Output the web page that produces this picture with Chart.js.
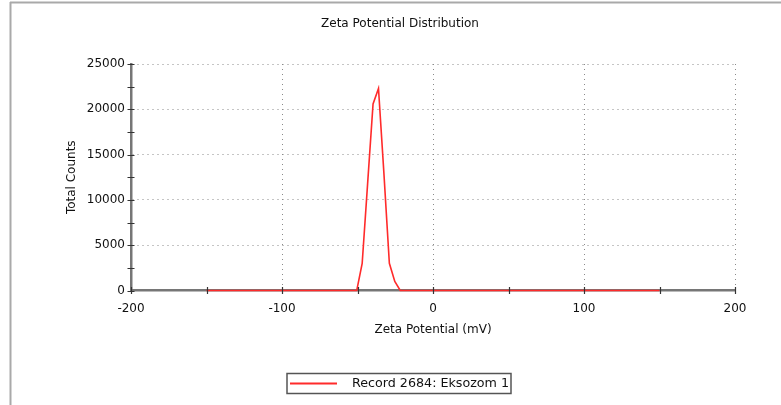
<!DOCTYPE html>
<html>
<head>
<meta charset="utf-8">
<script src="https://cdn.jsdelivr.net/npm/chart.js@4"></script>
<style>
  html, body { margin: 0; padding: 0; background: #fff; }
  #wrap { width: 781px; height: 405px; }
</style>
</head>
<body>
<div id="wrap"><canvas id="zeta" width="781" height="405"></canvas></div>
<script>
// Zeta potential distribution, one record
const zetaPotential = [-150, -50.5, -46.9, -43.3, -39.7, -36.1, -32.5, -28.9, -25.3, -21.7, 150];
const totalCounts   = [0, 0, 3000, 11800, 20600, 22300, 12900, 3000, 1000, 0, 0];
const xTicks = [-200, -100, 0, 100, 200];
const yTicks = [0, 5000, 10000, 15000, 20000, 25000];
const recordLabel = 'Record 2684: Eksozom 1';

const FONT = 'DejaVu Sans';
const TEXT = '#111';

// Outer panel edges (top and left rules)
const panelFrame = {
  id: 'panelFrame',
  beforeDraw(chart) {
    const c = chart.ctx;
    c.save();
    c.fillStyle = '#fff';
    c.fillRect(0, 0, chart.width, chart.height);
    c.strokeStyle = '#a9a9a9';
    c.lineWidth = 2;
    c.beginPath();
    c.moveTo(10, 2.5); c.lineTo(chart.width, 2.5);
    c.moveTo(10.5, 2); c.lineTo(10.5, chart.height);
    c.stroke();
    c.restore();
  }
};

// Short tick marks that cross the axis lines (major and minor)
const crossTicks = {
  id: 'crossTicks',
  afterDraw(chart) {
    const c = chart.ctx, xs = chart.scales.x, ys = chart.scales.y;
    const area = chart.chartArea;
    c.save();
    c.strokeStyle = '#333';
    c.lineWidth = 1.2;
    c.beginPath();
    for (let v = xs.min; v <= xs.max; v += 50) {
      const px = Math.round(xs.getPixelForValue(v)) + 0.5;
      c.moveTo(px, area.bottom - 3.5); c.lineTo(px, area.bottom + 3.5);
    }
    for (let v = ys.min; v <= ys.max; v += 2500) {
      const py = Math.round(ys.getPixelForValue(v)) + 0.5;
      c.moveTo(area.left - 3.5, py); c.lineTo(area.left + 3.5, py);
    }
    c.stroke();
    c.restore();
  }
};

// Boxed legend under the plot
const boxedLegend = {
  id: 'boxedLegend',
  afterDraw(chart) {
    const c = chart.ctx;
    const ds = chart.data.datasets[0];
    const bx = 287, by = 373.5, bw = 224, bh = 20;
    c.save();
    c.strokeStyle = '#555';
    c.lineWidth = 1.5;
    c.strokeRect(bx, by, bw, bh);
    c.strokeStyle = ds.borderColor;
    c.lineWidth = 2;
    c.beginPath();
    c.moveTo(290, by + bh / 2); c.lineTo(337, by + bh / 2);
    c.stroke();
    c.fillStyle = TEXT;
    c.font = '12.7px "' + FONT + '"';
    c.textBaseline = 'middle';
    c.textAlign = 'left';
    c.fillText(ds.label, 352, by + bh / 2 + 0.5);
    c.restore();
  }
};

const plainNumber = v => String(v);

new Chart(document.getElementById('zeta'), {
  type: 'line',
  data: {
    datasets: [{
      label: recordLabel,
      data: zetaPotential.map((x, i) => ({ x, y: totalCounts[i] })),
      borderColor: '#ff2b2b',
      borderWidth: 1.6,
      pointRadius: 0,
      tension: 0,
      fill: false,
      clip: false
    }]
  },
  options: {
    responsive: false,
    animation: false,
    devicePixelRatio: 1,
    layout: { padding: { left: 65, right: 46, top: 0, bottom: 68 } },
    plugins: {
      legend: { display: false },
      tooltip: { enabled: false },
      title: {
        display: true,
        text: 'Zeta Potential Distribution',
        color: TEXT,
        font: { family: FONT, size: 12, weight: 'normal' },
        padding: { top: 17, bottom: 32.6 }
      }
    },
    scales: {
      x: {
        type: 'linear',
        min: -200, max: 200,
        afterBuildTicks: s => { s.ticks = xTicks.map(v => ({ value: v })); },
        afterFit: s => { s.height = 46.5; },
        ticks: { color: TEXT, font: { family: FONT, size: 12 }, padding: 11, maxRotation: 0, callback: plainNumber },
        grid: { color: '#8a8a8a', lineWidth: 1, drawTicks: false },
        border: { color: '#767676', width: 2.5, dash: [1, 4] },
        title: {
          display: true, text: 'Zeta Potential (mV)', color: TEXT,
          font: { family: FONT, size: 12 }, padding: { top: 0, bottom: 0 }
        }
      },
      y: {
        type: 'linear',
        min: 0, max: 25000,
        afterBuildTicks: s => { s.ticks = yTicks.map(v => ({ value: v })); },
        afterFit: s => { s.width = 66; },
        ticks: { color: TEXT, font: { family: FONT, size: 12 }, padding: 6, callback: plainNumber },
        grid: { color: '#8a8a8a', lineWidth: 1, drawTicks: false },
        border: { color: '#767676', width: 2.5, dash: [1, 4] },
        title: {
          display: true, text: 'Total Counts', color: TEXT,
          font: { family: FONT, size: 12 }, padding: { top: 0, bottom: 0 }
        }
      }
    }
  },
  plugins: [panelFrame, crossTicks, boxedLegend]
});
</script>
</body>
</html>
